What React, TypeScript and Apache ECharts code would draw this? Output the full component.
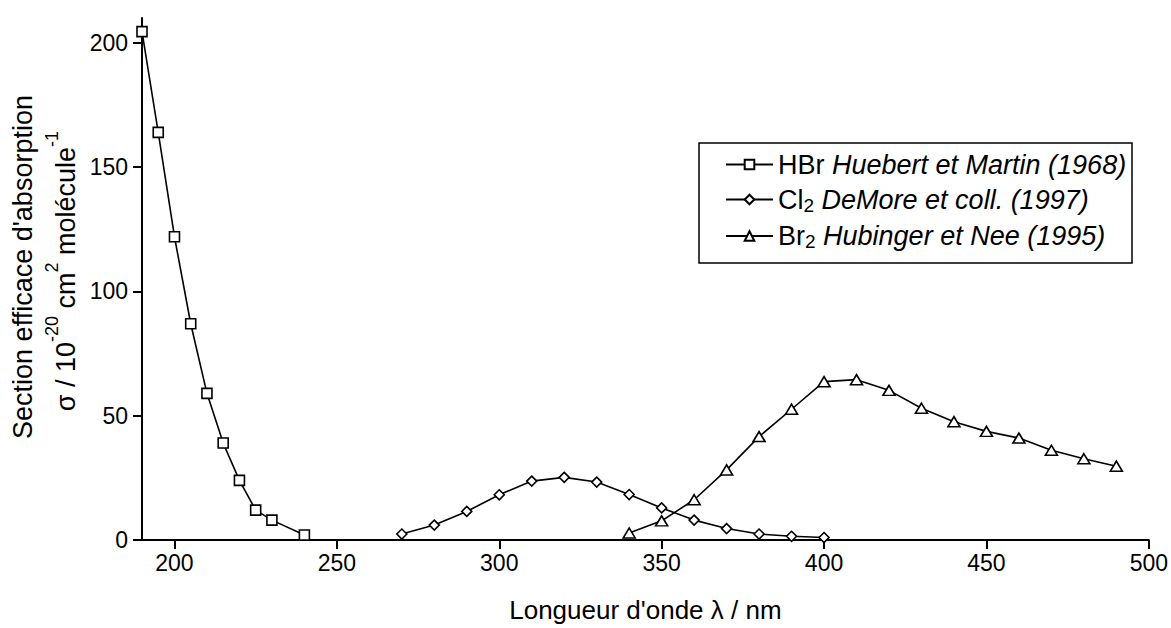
import React, { useEffect, useRef } from "react";
import * as echarts from "echarts";

const hbrX = [190, 195, 200, 205, 210, 215, 220, 225, 230, 240];
const hbrY = [204.5, 164, 122, 87, 59, 39, 24, 12, 8, 2];
const cl2X = [270, 280, 290, 300, 310, 320, 330, 340, 350, 360, 370, 380, 390, 400];
const cl2Y = [2.4, 6, 11.5, 18.2, 23.7, 25.2, 23.3, 18.3, 12.9, 8, 4.6, 2.4, 1.5, 1.0];
const br2X = [340, 350, 360, 370, 380, 390, 400, 410, 420, 430, 440, 450, 460, 470, 480, 490];
const br2Y = [2.8, 7.7, 16.2, 28.2, 41.6, 52.6, 63.7, 64.5, 60.2, 53, 47.6, 43.7, 41, 36.1, 32.7, 29.7];
const xTicks = [200, 250, 300, 350, 400, 450, 500];
const yTicks = [0, 50, 100, 150, 200];
const seriesNames = ["HBr", "Cl2", "Br2"];
const legendLabels: Record<string, string> = {
  HBr: "{n|HBr }{i|Huebert et Martin (1968)}",
  Cl2: "{n|Cl}{sub|2}{n| }{i|DeMore et coll. (1997)}",
  Br2: "{n|Br}{sub|2}{n| }{i|Hubinger et Nee (1995)}",
};

const FONT = "'Liberation Sans', Arial, sans-serif";

function zip(xs: number[], ys: number[]) {
  return xs.map((x, i) => [x, ys[i]]);
}

export default function App() {
  const ref = useRef<HTMLDivElement>(null);
  useEffect(() => {
    if (!ref.current) return;
    const chart = echarts.init(ref.current, null, { renderer: "svg" });
    const mkSeries = (name: string, data: number[][], symbol: string, size: any) => ({
      name,
      type: "line",
      data,
      symbol,
      symbolSize: size,
      showAllSymbol: true,
      lineStyle: { color: "#000", width: 1.6 },
      itemStyle: { color: "#fff", borderColor: "#000", borderWidth: 1.6 },
      z: 3,
    });
    chart.setOption({
      animation: false,
      backgroundColor: "#fff",
      textStyle: { fontFamily: FONT },
      grid: { left: 142, right: 20, top: 18, bottom: 82 },
      xAxis: {
        type: "value",
        min: 190,
        max: 500,
        name: "Longueur d'onde λ / nm",
        nameLocation: "middle",
        nameGap: 57,
        nameTextStyle: { fontSize: 26, color: "#000", fontFamily: FONT },
        axisLine: { lineStyle: { color: "#000", width: 2 } },
        axisTick: { show: true, length: 9, lineStyle: { color: "#000", width: 2 }, customValues: xTicks },
        axisLabel: { fontSize: 23, color: "#000", margin: 11, fontFamily: FONT, customValues: xTicks },
        splitLine: { show: false },
      },
      yAxis: {
        type: "value",
        min: 0,
        max: 210,
        axisLine: { show: true, lineStyle: { color: "#000", width: 2 } },
        axisTick: { show: true, length: 9, lineStyle: { color: "#000", width: 2 }, customValues: yTicks },
        axisLabel: { fontSize: 23, color: "#000", margin: 14, fontFamily: FONT, customValues: yTicks },
        splitLine: { show: false },
      },
      legend: {
        data: seriesNames,
        orient: "vertical",
        left: 725,
        top: 151,
        padding: 0,
        itemWidth: 47,
        itemHeight: 12,
        itemGap: 8,
        formatter: (name: string) => legendLabels[name],
        textStyle: {
          fontFamily: FONT,
          fontSize: 27,
          color: "#000",
          rich: {
            n: { fontSize: 27, fontFamily: FONT, color: "#000", lineHeight: 30 },
            i: { fontSize: 27, fontFamily: FONT, fontStyle: "italic", color: "#000", lineHeight: 30 },
            sub: { fontSize: 19, fontFamily: FONT, color: "#000", lineHeight: 11, verticalAlign: "bottom" },
          },
        },
      },
      graphic: [
        {
          type: "rect",
          shape: { x: 699, y: 143, width: 433, height: 120 },
          style: { fill: "none", stroke: "#000", lineWidth: 1.5 },
          z: 10,
        },
        {
          type: "text",
          x: 23,
          y: 267,
          rotation: Math.PI / 2,
          style: {
            text: "Section efficace d'absorption",
            fontSize: 27,
            fontFamily: FONT,
            fill: "#000",
            align: "center",
            verticalAlign: "middle",
          },
        },
        {
          type: "text",
          x: 61,
          y: 271,
          rotation: Math.PI / 2,
          style: {
            text: "{b|σ / 10}{sup|-20}{b| cm}{sup|2}{b| molécule}{sup|-1}",
            fontSize: 27,
            fontFamily: FONT,
            fill: "#000",
            align: "center",
            verticalAlign: "middle",
            rich: {
              b: { fontSize: 27, fontFamily: FONT, fill: "#000", lineHeight: 36, verticalAlign: "bottom" },
              sup: { fontSize: 18, fontFamily: FONT, fill: "#000", lineHeight: 18, verticalAlign: "top" },
            },
          },
        },
      ],
      series: [
        mkSeries("HBr", zip(hbrX, hbrY), "rect", 10),
        mkSeries("Cl2", zip(cl2X, cl2Y), "diamond", 10),
        mkSeries("Br2", zip(br2X, br2Y), "triangle", [12, 10]),
      ],
    });
    return () => chart.dispose();
  }, []);
  return <div ref={ref} style={{ width: 1171, height: 628, position: "absolute", left: 0, top: 0 }} />;
}
